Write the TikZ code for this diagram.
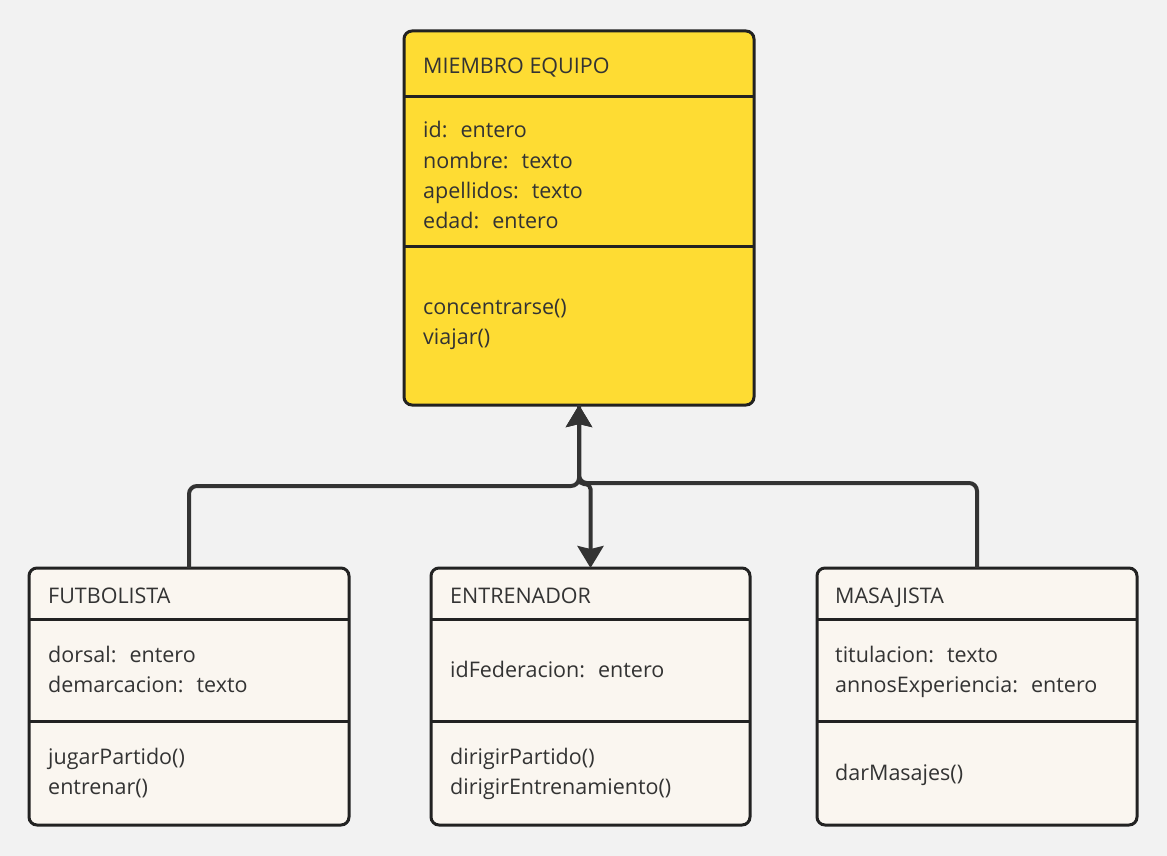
\documentclass[tikz,border=0pt]{standalone}
\usepackage{fontspec}
\setmainfont{Open Sans}
\usetikzlibrary{arrows.meta}
\definecolor{canvas}{HTML}{F2F2F2}
\definecolor{ink}{HTML}{222222}
\definecolor{wire}{HTML}{333333}
\definecolor{gold}{HTML}{FEDC33}
\definecolor{paper}{HTML}{FAF6F0}
\definecolor{txt}{HTML}{333333}
\begin{document}
\begin{tikzpicture}[x=1pt,y=-1pt,
  classbox/.style={draw=ink, line width=3pt, rounded corners=8pt, inner sep=0pt, outer sep=0pt},
  divider/.style={draw=ink, line width=3pt},
  lbl/.style={anchor=base west, inner sep=0pt, text=txt, font=\fontsize{21.5}{26}\selectfont},
  link/.style={draw=wire, line width=4pt, rounded corners=8pt},
  tip/.style={-{Stealth[length=22pt,width=26pt,inset=3pt]}}
]
% canvas
\fill[canvas] (0,0) rectangle (1167,856);
\useasboundingbox (0,0) rectangle (1167,856);

% class boxes
\node[classbox, fill=gold, minimum width=350pt, minimum height=374pt] (miembro) at (579,218) {};
\node[classbox, fill=paper, minimum width=320pt, minimum height=257pt] (futbolista) at (189,696.5) {};
\node[classbox, fill=paper, minimum width=319pt, minimum height=257pt] (entrenador) at (590.5,696.5) {};
\node[classbox, fill=paper, minimum width=320pt, minimum height=257pt] (masajista) at (977,696.5) {};

% compartment dividers
\draw[divider] (miembro.west |- 0,97) -- (miembro.east |- 0,97);
\draw[divider] (miembro.west |- 0,246) -- (miembro.east |- 0,246);
\foreach \c in {futbolista,entrenador,masajista}{
  \draw[divider] (\c.west |- 0,619) -- (\c.east |- 0,619);
  \draw[divider] (\c.west |- 0,721) -- (\c.east |- 0,721);
}

% MIEMBRO EQUIPO
\node[lbl] (mtitle) at (423,74) {MIEMBRO EQUIPO};
\node[lbl] (ma1) at (423,138) {id:~ entero};
\node[lbl] (ma2) at (423,168) {nombre:~ texto};
\node[lbl] (ma3) at (423,198) {apellidos:~ texto};
\node[lbl] (ma4) at (423,228) {edad:~ entero};
\node[lbl] (mm1) at (423,314) {concentrarse()};
\node[lbl] (mm2) at (423,344) {viajar()};

% FUTBOLISTA
\node[lbl] (ftitle) at (48,603) {FUTBOLISTA};
\node[lbl] (fa1) at (48,662) {dorsal:~ entero};
\node[lbl] (fa2) at (48,692) {demarcacion:~ texto};
\node[lbl] (fm1) at (48,764) {jugarPartido()};
\node[lbl] (fm2) at (48,794) {entrenar()};

% ENTRENADOR
\node[lbl] (etitle) at (450,603) {ENTRENADOR};
\node[lbl] (ea1) at (450,677) {idFederacion:~ entero};
\node[lbl] (em1) at (450,764) {dirigirPartido()};
\node[lbl] (em2) at (450,794) {dirigirEntrenamiento()};

% MASAJISTA
\node[lbl] (stitle) at (835,603) {MASAJISTA};
\node[lbl] (sa1) at (835,662) {titulacion:~ texto};
\node[lbl] (sa2) at (835,692) {annosExperiencia:~ entero};
\node[lbl] (sm1) at (835,780) {darMasajes()};

% connectors
\draw[link, tip] (futbolista.north) -- ++(0,-82) -| (miembro.south);
\draw[link, tip] (masajista.north) -- ++(0,-85) -| (miembro.south);
\draw[link, rounded corners=5pt, tip] (miembro.south) -- ++(0,79) -| (entrenador.north);
\end{tikzpicture}
\end{document}
